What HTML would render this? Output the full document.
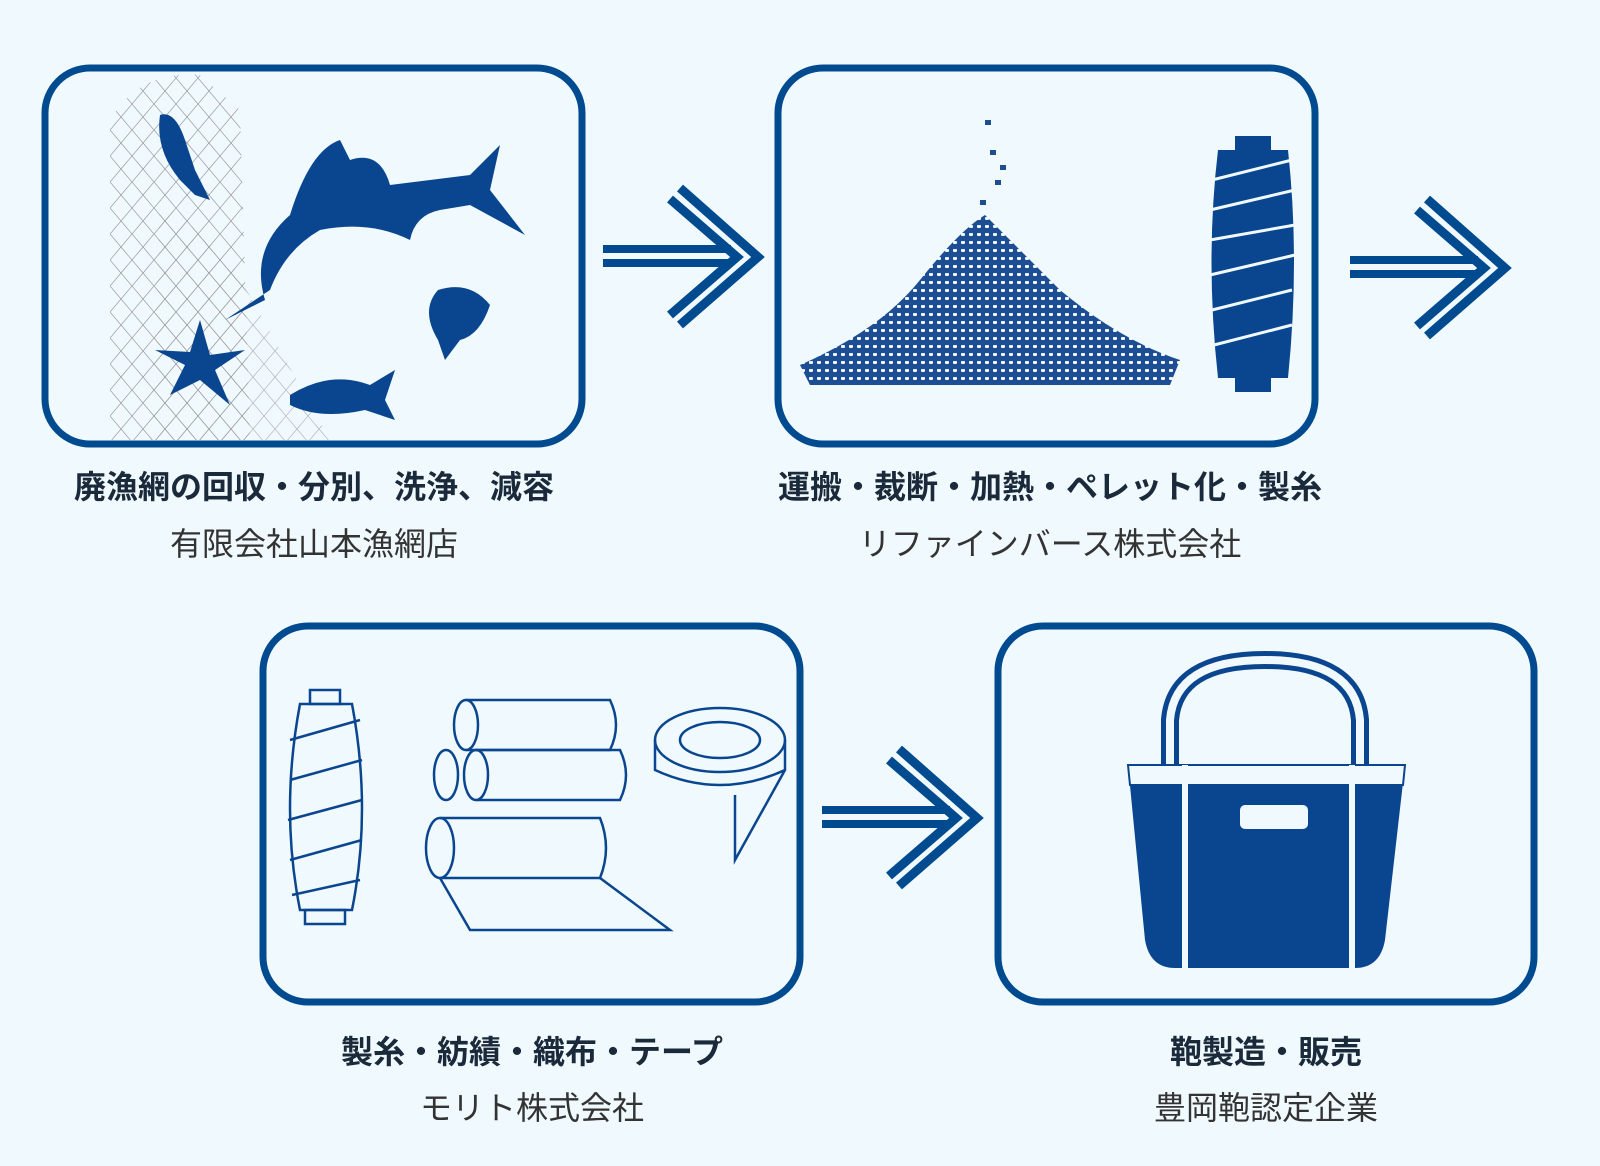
<!DOCTYPE html>
<html><head><meta charset="utf-8"><style>
body{margin:0;width:1600px;height:1166px;background:#f0f9fd;font-family:"Liberation Sans","Noto Sans CJK JP",sans-serif;overflow:hidden;position:relative}
.t{position:absolute;text-align:center;color:#222;width:600px}
.b{font-weight:bold;font-size:32px;color:#1b2a3a}
.s{font-size:32px;color:#333}
svg{position:absolute;left:0;top:0}
</style></head><body>
<svg width="1600" height="1166" viewBox="0 0 1600 1166">
<defs>
<g id="arr" fill="none" stroke="#004a8f">
<line x1="0" y1="-8" x2="128" y2="-8" stroke-width="8"/>
<line x1="0" y1="6" x2="128" y2="6" stroke-width="8"/>
<polyline points="67,-58 134,0 67,58" stroke-width="9"/>
<polyline points="77,-69 155,0 77,68" stroke-width="9"/>
</g>
<pattern id="net" width="22" height="26" patternUnits="userSpaceOnUse"><path d="M0 0 L11 13 L0 26 M22 0 L11 13 L22 26" stroke="#999" stroke-width="0.7" fill="none"/></pattern>
<pattern id="pel" width="8" height="8" patternUnits="userSpaceOnUse"><rect width="8" height="8" fill="#1d4e94"/><rect x="1" y="1" width="4" height="3" fill="#f0f9fd" rx="1"/></pattern>
</defs>
<g fill="#f0f9fd" stroke="#004a8f" stroke-width="7">
<rect x="45" y="68" width="537" height="376" rx="45"/>
<rect x="778" y="68" width="537" height="376" rx="45"/>
<rect x="263" y="626" width="537" height="376" rx="45"/>
<rect x="998" y="626" width="536" height="376" rx="45"/>
</g>
<use href="#arr" x="603" y="257"/>
<use href="#arr" x="1350" y="268"/>
<use href="#arr" x="822" y="818"/>
<path d="M110 440 L110 120 Q140 70 200 75 L240 110 L250 440 Z" fill="url(#net)"/>
<path d="M150 440 L160 200 L230 260 L330 440Z" fill="url(#net)" opacity="0.7"/>
<g fill="#0a468f">
<path d="M265 300 Q250 250 290 215 Q330 185 390 185 L430 180 L470 175 L500 145 L490 190 L525 235 L470 205 L440 210 Q415 215 410 240 Q370 220 320 230 Q285 250 270 290 L225 320Z"/>
<path d="M290 215 Q310 150 340 140 L350 160 Q380 150 390 185Z"/>
<path d="M160 115 Q175 110 185 140 L195 170 L210 200 L195 195 L180 180 Q155 150 160 115Z"/>
<path d="M438 290 Q470 280 490 305 Q480 335 460 340 L445 360 L438 340 Q420 310 438 290Z"/>
<path d="M290 395 Q330 370 370 385 L395 370 L385 400 L395 420 L365 410 Q320 420 290 405Z"/>
<path d="M200 320 L210 355 L245 350 L215 370 L230 405 L200 380 L170 395 L185 365 L155 350 L190 352Z"/>
</g>
<path d="M800 365 Q880 330 920 280 Q960 230 985 215 Q1010 240 1060 290 Q1120 340 1180 360 L1170 385 L810 385Z" fill="url(#pel)"/>
<g fill="#1d4e94"><rect x="985" y="120" width="6" height="5"/><rect x="990" y="150" width="6" height="5"/><rect x="995" y="180" width="6" height="5"/><rect x="980" y="200" width="6" height="5"/><rect x="1000" y="165" width="6" height="5"/></g>
<rect x="1235" y="136" width="36" height="14" fill="#0a468f"/>
<rect x="1235" y="378" width="36" height="14" fill="#0a468f"/>
<path d="M1218 150 Q1205 260 1218 378 L1288 378 Q1300 260 1288 150Z" fill="#0a468f"/>
<g stroke="#f0f9fd" stroke-width="3"><line x1="1212" y1="180" x2="1292" y2="160"/><line x1="1210" y1="210" x2="1295" y2="190"/><line x1="1210" y1="240" x2="1295" y2="225"/><line x1="1210" y1="275" x2="1295" y2="255"/><line x1="1212" y1="310" x2="1292" y2="290"/><line x1="1214" y1="345" x2="1292" y2="325"/></g>
<g fill="none" stroke="#0a468f" stroke-width="2.5">
<rect x="310" y="690" width="30" height="14"/><rect x="305" y="910" width="40" height="14"/>
<path d="M300 704 Q280 810 300 910 L352 910 Q372 810 352 704Z"/>
<path d="M290 740 L360 720 M290 780 L362 760 M288 820 L362 800 M290 860 L362 840 M292 895 L360 880"/>
<path d="M466 700 L610 700 Q622 725 610 750 L466 750"/><ellipse cx="466" cy="725" rx="12" ry="25"/>
<path d="M476 750 L620 750 Q632 775 620 800 L476 800"/><ellipse cx="446" cy="775" rx="12" ry="25"/><ellipse cx="476" cy="775" rx="12" ry="25"/>
<path d="M440 818 L600 818 Q612 848 600 878 L440 878"/><ellipse cx="440" cy="848" rx="14" ry="30"/>
<path d="M440 878 L470 930 L670 930 L600 878"/>
<ellipse cx="720" cy="740" rx="65" ry="32"/><ellipse cx="720" cy="740" rx="40" ry="18"/><path d="M655 740 L655 770 Q720 800 785 770 L785 740 M735 795 L735 860 L785 770"/>
</g>
<path d="M1170 780 L1170 720 Q1175 660 1265 660 Q1355 660 1360 720 L1360 780" fill="none" stroke="#0a468f" stroke-width="18"/>
<path d="M1170 780 L1170 720 Q1175 660 1265 660 Q1355 660 1360 720 L1360 780" fill="none" stroke="#f0f9fd" stroke-width="8"/>
<path d="M1128 765 L1405 765 L1385 940 Q1380 968 1355 968 L1175 968 Q1150 968 1145 940Z" fill="#0a468f"/>
<path d="M1128 765 L1405 765 L1403 785 L1130 785Z" fill="#f0f9fd" stroke="#0a468f" stroke-width="2"/>
<rect x="1240" y="805" width="68" height="24" rx="5" fill="#f0f9fd"/>
<line x1="1185" y1="765" x2="1185" y2="968" stroke="#f0f9fd" stroke-width="6"/>
<line x1="1352" y1="765" x2="1352" y2="968" stroke="#f0f9fd" stroke-width="6"/>
</svg>
<div class="t b" style="left:14px;top:462px">廃漁網の回収・分別、洗浄、減容</div>
<div class="t s" style="left:14px;top:519px">有限会社山本漁網店</div>
<div class="t b" style="left:750px;top:462px">運搬・裁断・加熱・ペレット化・製糸</div>
<div class="t s" style="left:750px;top:519px">リファインバース株式会社</div>
<div class="t b" style="left:232px;top:1027px">製糸・紡績・織布・テープ</div>
<div class="t s" style="left:232px;top:1083px">モリト株式会社</div>
<div class="t b" style="left:966px;top:1027px">鞄製造・販売</div>
<div class="t s" style="left:966px;top:1083px">豊岡鞄認定企業</div>
</body></html>
